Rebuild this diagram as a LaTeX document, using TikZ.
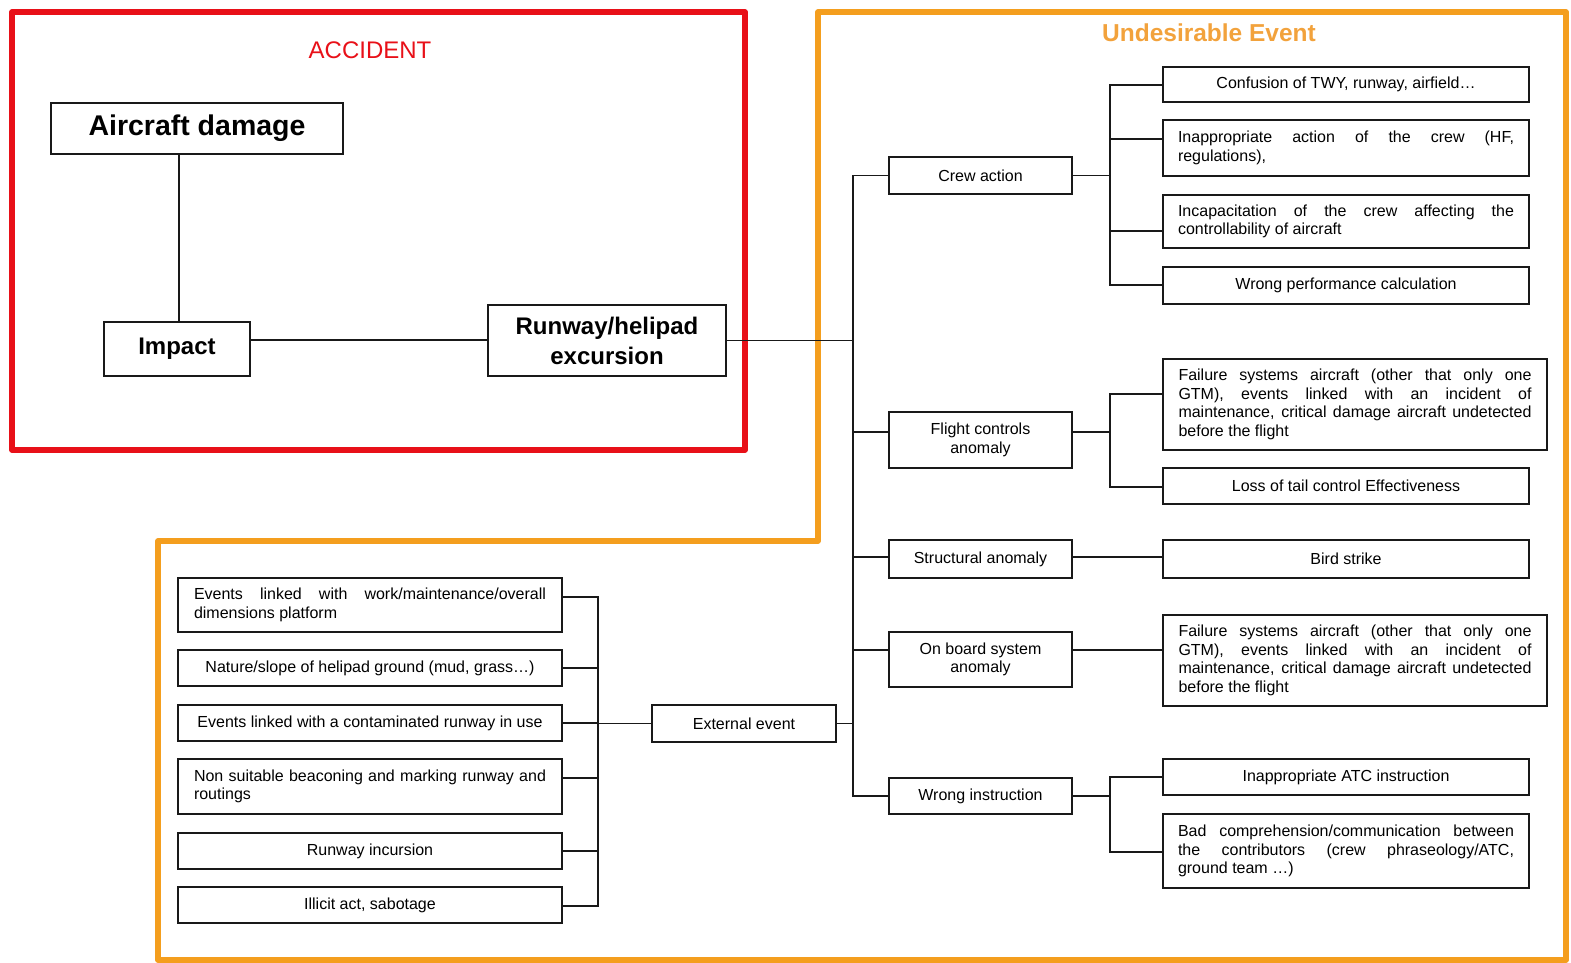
\documentclass[tikz,border=0pt]{standalone}
\usepackage{fontspec}
\setmainfont{Liberation Sans}
\newcommand\boxfont{\fontsize{16}{18.5}\selectfont\hyphenpenalty=10000\exhyphenpenalty=10000\tolerance=10000}
\definecolor{accred}{RGB}{232,16,24}
\definecolor{evorange}{RGB}{244,158,30}
\definecolor{evtext}{RGB}{242,162,60}
\begin{document}
\begin{tikzpicture}[x=1pt,y=-1pt,
  box/.style={draw=black!90, line width=1.8pt, inner sep=0pt, align=center, font=\boxfont},
  jbox/.style={box, text width=#1, align=justify},
  bigbox/.style={draw=black!90, line width=1.8pt, inner sep=0pt, align=center, font=\fontsize{24}{30}\selectfont\bfseries},
  link/.style={draw=black!90, line width=1.7pt},
  frame/.style={line width=5.5pt, line join=round}
]
\useasboundingbox (0,0) rectangle (1571,963);

% the two zones
\draw[frame, accred] (12,12) rectangle (745,450);
\draw[frame, evorange] (818,12) -- (1566,12) -- (1566,960) -- (158,960) -- (158,541) -- (818,541) -- cycle;
\node[text=accred, font=\fontsize{24}{28}\selectfont] (acc) at (370,50) {ACCIDENT};
\node[text=evtext, font=\fontsize{24.5}{28}\selectfont\bfseries] (ue) at (1209,33) {Undesirable Event};

% accident chain
\node[bigbox, minimum width=292, minimum height=51, font=\fontsize{28.5}{32}\selectfont\bfseries] (damage) at (197,128.5) {Aircraft damage};
\node[bigbox, minimum width=146, minimum height=54] (impact) at (177,349) {\raisebox{4pt}{Impact}};
\node[bigbox, minimum width=238, minimum height=71] (runway) at (607,340.5) {Runway/helipad\\excursion};

% intermediate events
\node[box, minimum width=183, minimum height=37] (crew) at (980.5,175.5) {Crew action};
\node[box, minimum width=183, minimum height=56] (flight) at (980.5,440) {Flight controls\\anomaly};
\node[box, minimum width=183, minimum height=38] (struct) at (980.5,559) {Structural anomaly};
\node[box, minimum width=183, minimum height=55] (onboard) at (980.5,659.5) {On board system\\anomaly};
\node[box, minimum width=183, minimum height=36] (wrong) at (980.5,796) {Wrong instruction};
\node[box, minimum width=184, minimum height=37] (ext) at (744,723.5) {External event};

% causes on the right
\node[box, minimum width=366, minimum height=35] (conf) at (1346,84.5) {Confusion of TWY, runway, airfield\dots};
\node[jbox=336, minimum width=366, minimum height=56] (inap) at (1346,148) {Inappropriate action of the crew (HF,\linebreak regulations),};
\node[jbox=336, minimum width=366, minimum height=53] (incap) at (1346,221.5) {Incapacitation of the crew affecting the\linebreak controllability of aircraft};
\node[box, minimum width=366, minimum height=37] (perf) at (1346,285.5) {Wrong performance calculation};
\node[jbox=353, minimum width=384, minimum height=91] (fail1) at (1355,404.5) {Failure systems aircraft (other that only one\linebreak GTM), events linked with an incident of\linebreak maintenance, critical damage aircraft undetected\linebreak before the flight};
\node[box, minimum width=366, minimum height=36] (tail) at (1346,486) {Loss of tail control Effectiveness};
\node[box, minimum width=366, minimum height=38] (bird) at (1346,559) {Bird strike};
\node[jbox=353, minimum width=384, minimum height=91] (fail2) at (1355,660.5) {Failure systems aircraft (other that only one\linebreak GTM), events linked with an incident of\linebreak maintenance, critical damage aircraft undetected\linebreak before the flight};
\node[box, minimum width=366, minimum height=36] (atc) at (1346,777) {Inappropriate ATC instruction};
\node[jbox=336, minimum width=366, minimum height=74] (bad) at (1346,851) {Bad comprehension/communication between\linebreak the contributors (crew phraseology/ATC,\linebreak ground team \dots)};

% external causes on the left
\node[jbox=352, minimum width=384, minimum height=54] (work) at (370,605) {Events linked with work/maintenance/overall\linebreak dimensions platform};
\node[box, minimum width=384, minimum height=36] (nature) at (370,668) {Nature/slope of helipad ground (mud, grass\dots)};
\node[box, minimum width=384, minimum height=36] (contam) at (370,723) {Events linked with a contaminated runway in use};
\node[jbox=352, minimum width=384, minimum height=55] (beacon) at (370,786.5) {Non suitable beaconing and marking runway and\linebreak routings};
\node[box, minimum width=384, minimum height=36] (incur) at (370,851) {Runway incursion};
\node[box, minimum width=384, minimum height=36] (illicit) at (370,905) {Illicit act, sabotage};

% bus lines
\coordinate (bus) at (853,0);
\coordinate (busR) at (1110,0);
\coordinate (busL) at (598,0);

% accident links
\draw[link] ([xshift=2pt]impact.north) -- ([xshift=2pt]impact.north |- damage.south);
\draw[link] (impact.east |- 0,340) -- (runway.west |- 0,340);
\draw[link] (runway.east) -- (bus |- runway.east);

% main trunk
\draw[link] (crew.west) -| (bus |- wrong.west) -- (wrong.west);
\draw[link] (flight.west |- 0,432) -- (bus |- 0,432);
\draw[link] (struct.west |- 0,557) -- (bus |- 0,557);
\draw[link] (onboard.west |- 0,650) -- (bus |- 0,650);
\draw[link] (ext.east) -- (bus |- ext.east);

% crew action branches
\draw[link] (crew.east) -- (busR |- crew.east);
\draw[link] (conf.west |- 0,85) -| (busR |- 0,285) -- (perf.west |- 0,285);
\draw[link] (inap.west |- 0,139) -- (busR |- 0,139);
\draw[link] (incap.west |- 0,231) -- (busR |- 0,231);

% flight controls branches
\draw[link] (flight.east |- 0,432) -- (busR |- 0,432);
\draw[link] (fail1.west |- 0,394) -| (busR |- 0,487) -- (tail.west |- 0,487);

% structural and on board
\draw[link] (struct.east |- 0,557) -- (bird.west |- 0,557);
\draw[link] (onboard.east |- 0,650) -- (fail2.west |- 0,650);

% wrong instruction branches
\draw[link] (wrong.east) -- (busR |- wrong.east);
\draw[link] (atc.west |- 0,777) -| (busR |- 0,852) -- (bad.west |- 0,852);

% external event branches
\draw[link] (ext.west) -- (busL |- ext.west);
\draw[link] (work.east |- 0,597) -| (busL |- 0,906) -- (illicit.east |- 0,906);
\draw[link] (nature.east) -- (busL |- nature.east);
\draw[link] (contam.east) -- (busL |- contam.east);
\draw[link] (beacon.east |- 0,778) -- (busL |- 0,778);
\draw[link] (incur.east) -- (busL |- incur.east);
\end{tikzpicture}
\end{document}
